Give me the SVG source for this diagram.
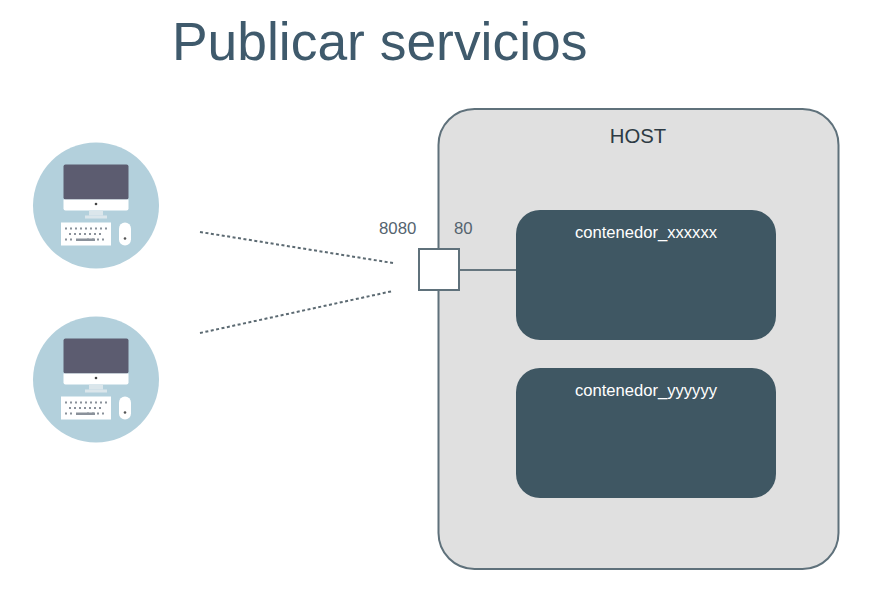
<svg xmlns="http://www.w3.org/2000/svg" width="877" height="616" viewBox="0 0 877 616">
<style>
text{font-family:"Liberation Sans",Arial,sans-serif}
.lbl{font-size:16.800px;fill:#55646f}
.ct{font-size:16.600px;fill:#fff;text-anchor:middle}
.box{fill:#3f5763}
.ln{fill:none;stroke:#66767f;stroke-width:2}
.dash{fill:none;stroke:#5c6a72;stroke-width:2;stroke-dasharray:3 2.500}
.scr{fill:#5c5c70}
.w{fill:#fff}
.d{fill:#8a919a}
</style>
<defs>
<g id="pc">
<circle cx="0" cy="0" r="63" fill="#b3d0dc"/>
<rect x="-32.500" y="-41" width="65" height="35" rx="2" class="scr"/>
<path d="M-32.500-6H32.500V3a2 2 0 0 1-2 2H-30.500a2 2 0 0 1-2-2Z" class="w"/>
<circle cx="0" cy="-1.500" r="1.300" fill="#444"/>
<rect x="-7" y="5" width="14" height="5" fill="#dbe6eb"/>
<rect x="-11" y="10" width="22" height="3" fill="#dbe6eb"/>
<rect x="-35" y="17" width="50" height="23" class="w"/>
<path d="M-31 23H11" stroke="#8a919a" stroke-width="2" stroke-dasharray="2 3"/>
<path d="M-27 28.500H7" stroke="#8a919a" stroke-width="2" stroke-dasharray="2 3"/>
<path d="M-31 34H-24M-9 34H11" stroke="#8a919a" stroke-width="2" stroke-dasharray="2 3"/>
<rect x="-20" y="33" width="19" height="2.500" class="d"/>
<rect x="23" y="17" width="12" height="23" rx="6" class="w"/>
<circle cx="29" cy="33" r="1.300" fill="#555"/>
</g>
</defs>
<text x="172" y="60" font-size="53.400" fill="#3f5a6c">Publicar servicios</text>
<g id="client-1"><use href="#pc" x="96" y="205.500"/></g>
<g id="client-2"><use href="#pc" x="96" y="379.500"/></g>
<g id="host">
<rect x="438.500" y="109" width="400" height="460" rx="36" fill="#e0e0e0" stroke="#5f717b" stroke-width="2"/>
<text x="638" y="143" font-size="20.300" fill="#2e3b44" text-anchor="middle">HOST</text>
</g>
<g id="contenedor-x">
<rect x="516" y="210" width="260" height="130" rx="24" class="box"/>
<text x="646" y="238" class="ct">contenedor_xxxxxx</text>
</g>
<g id="contenedor-y">
<rect x="516" y="368" width="260" height="130" rx="24" class="box"/>
<text x="646" y="396" class="ct">contenedor_yyyyyy</text>
</g>
<g id="connectors">
<path class="dash" d="M200 232L393 263"/>
<path class="dash" d="M200 333L393 291"/>
<path class="ln" d="M460 270H516"/>
</g>
<g id="port">
<rect x="419" y="249" width="40" height="41" fill="#fff" stroke="#5f717b" stroke-width="2"/>
<text x="379" y="234" class="lbl">8080</text>
<text x="454" y="234" class="lbl">80</text>
</g>
</svg>
